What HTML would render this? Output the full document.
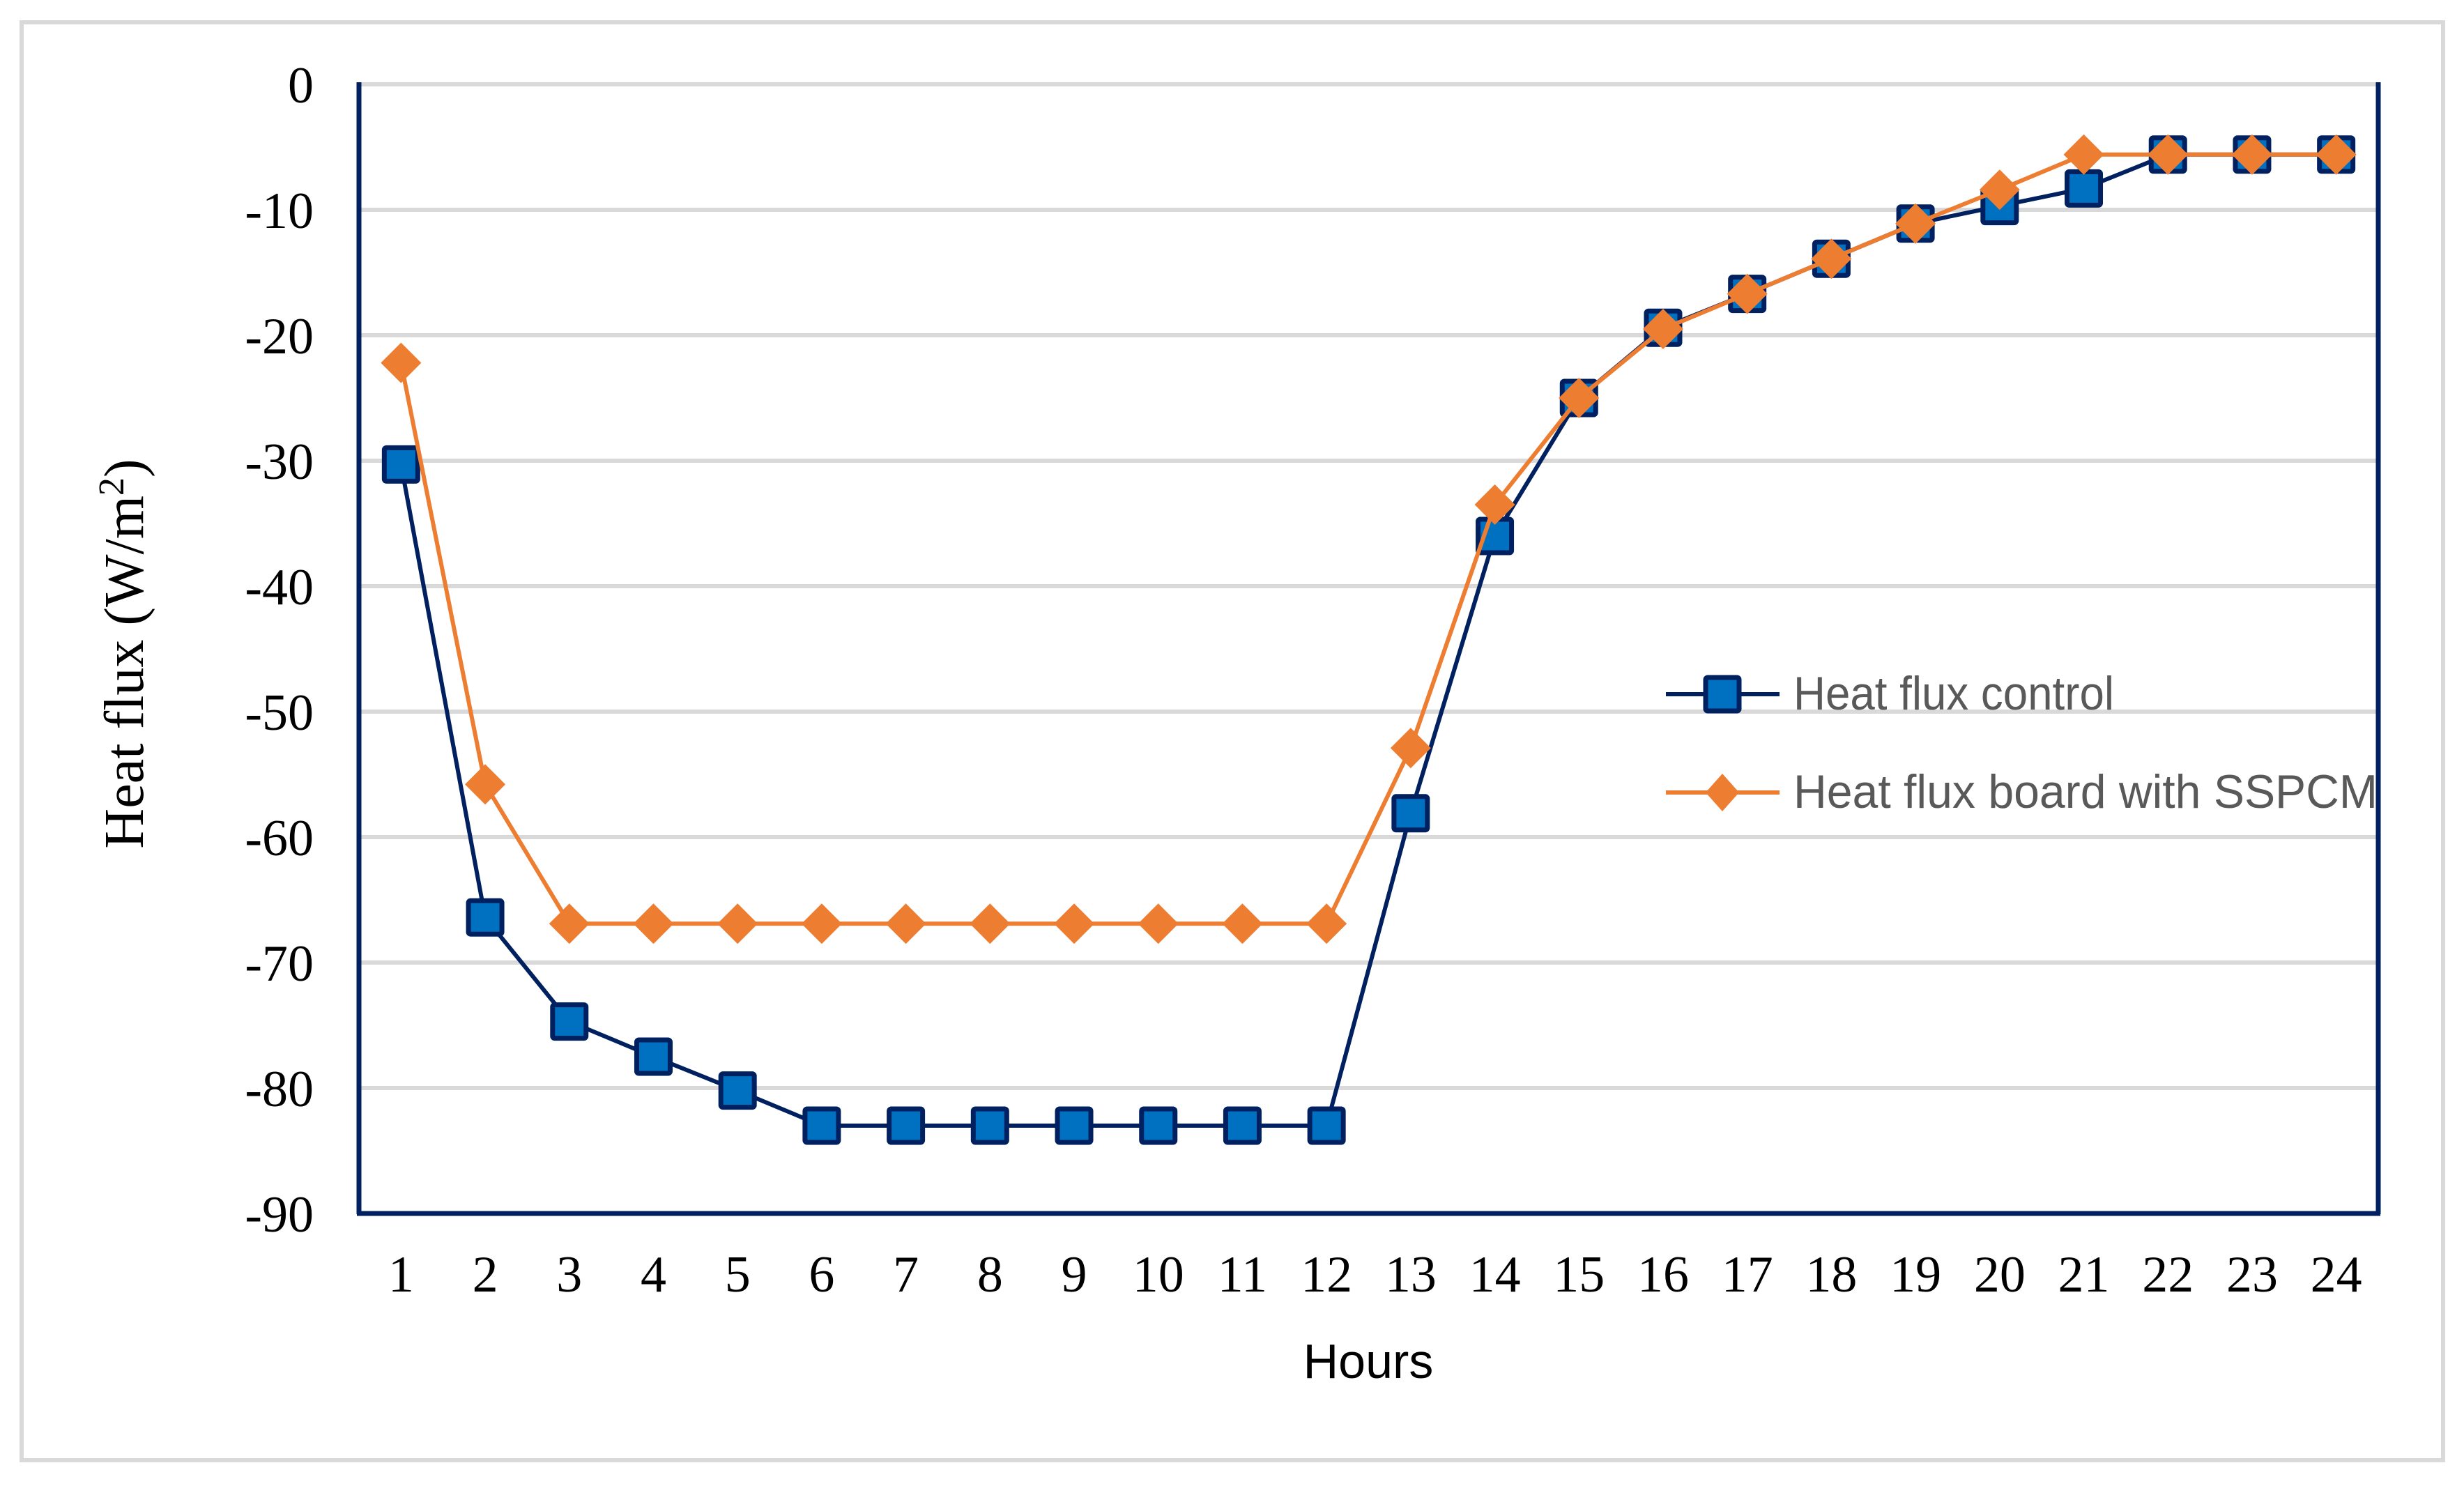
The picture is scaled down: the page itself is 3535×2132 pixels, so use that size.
<!DOCTYPE html>
<html><head><meta charset="utf-8"><style>
html,body{margin:0;padding:0;background:#fff;}
svg{display:block;}
</style></head><body>
<svg id="chart" width="3535" height="2132" viewBox="0 0 3535 2132" xmlns="http://www.w3.org/2000/svg">
<rect x="31" y="32" width="3474" height="2063" fill="#fff" stroke="#d9d9d9" stroke-width="6"/>
<g id="grid"></g>
<g id="yticks"></g>
<g id="xticks"></g>
<line x1="515" y1="118" x2="515" y2="1742" stroke="#002060" stroke-width="7"/>
<line x1="3412" y1="118" x2="3412" y2="1742" stroke="#002060" stroke-width="7"/>
<line x1="512" y1="1741" x2="3415" y2="1741" stroke="#002060" stroke-width="7"/>
<g id="series"></g>
<text x="0" y="0" transform="translate(205,938) rotate(-90)" text-anchor="middle" font-family="Liberation Serif, serif" font-size="80" fill="#000">Heat flux (W/m<tspan baseline-shift="super" font-size="52">2</tspan>)</text>
<text x="1963" y="1977" text-anchor="middle" font-family="Liberation Sans, sans-serif" font-size="70" fill="#000">Hours</text>
<g>
<g>
<line x1="2390" y1="996" x2="2553" y2="996" stroke="#002060" stroke-width="6"/>
<rect x="2447" y="972" width="48" height="48" fill="#0070c0" stroke="#002060" stroke-width="7" rx="3"/>
<text x="2573" y="1018" font-family="Liberation Sans, sans-serif" font-size="68" fill="#595959" textLength="460" lengthAdjust="spacingAndGlyphs">Heat flux control</text>
</g>
<g>
<line x1="2390" y1="1137" x2="2553" y2="1137" stroke="#ED7D31" stroke-width="6"/>
<polygon points="2471,1110 2495,1137 2471,1164 2447,1137" fill="#ED7D31"/>
<text x="2573" y="1159" font-family="Liberation Sans, sans-serif" font-size="68" fill="#595959" textLength="838" lengthAdjust="spacingAndGlyphs">Heat flux board with SSPCM</text>
</g>
</g>
</svg>
<script>
const hours = [1,2,3,4,5,6,7,8,9,10,11,12,13,14,15,16,17,18,19,20,21,22,23,24];
const controlValues = [-30.3,-66.4,-74.7,-77.5,-80.2,-83,-83,-83,-83,-83,-83,-83,-58.1,-36,-25,-19.4,-16.7,-13.9,-11.1,-9.7,-8.3,-5.6,-5.6,-5.6];
const sspcmValues = [-22.2,-55.8,-66.9,-66.9,-66.9,-66.9,-66.9,-66.9,-66.9,-66.9,-66.9,-66.9,-52.9,-33.5,-25,-19.5,-16.7,-13.9,-11.1,-8.4,-5.6,-5.6,-5.6,-5.6];
const yTicks = [0,-10,-20,-30,-40,-50,-60,-70,-80,-90];

const NS = "http://www.w3.org/2000/svg";
const X0 = 515, X1 = 3412, Y0 = 121, Y1 = 1741, YMIN = -90, YMAX = 0;
function xs(i){ return X0 + (i + 0.5) * (X1 - X0) / hours.length; }
function ys(v){ return Y0 + (YMAX - v) / (YMAX - YMIN) * (Y1 - Y0); }
function mk(tag, attrs, parent){ const e = document.createElementNS(NS, tag); for (const k in attrs) e.setAttribute(k, attrs[k]); parent.appendChild(e); return e; }

const grid = document.getElementById('grid');
const yt = document.getElementById('yticks');
yTicks.forEach(v => {
  if (v !== YMIN) {
    const l = mk('line', {x1: X0, x2: X1, y1: ys(v), y2: ys(v), stroke: '#d9d9d9', 'stroke-width': 6}, grid);
    
    
  }
  const t = mk('text', {x: 450, y: ys(v) + 26, 'text-anchor': 'end', 'font-family': 'Liberation Serif, serif', 'font-size': 74, fill: '#000'}, yt);
  t.textContent = String(v);
  
  
});
const xt = document.getElementById('xticks');
hours.forEach((h, i) => {
  const t = mk('text', {x: xs(i), y: 1853, 'text-anchor': 'middle', 'font-family': 'Liberation Serif, serif', 'font-size': 74, fill: '#000'}, xt);
  t.textContent = String(h);
  
  
});

const sg = document.getElementById('series');
const cLine = mk('polyline', {points: controlValues.map((v,i) => xs(i)+','+ys(v)).join(' '), fill: 'none', stroke: '#002060', 'stroke-width': 6, 'stroke-linejoin': 'round'}, sg);


controlValues.forEach((v, i) => {
  const r = mk('rect', {x: xs(i) - 24, y: ys(v) - 24, width: 48, height: 48, rx: 3, fill: '#0070c0', stroke: '#002060', 'stroke-width': 7}, sg);
  
  
});
const sLine = mk('polyline', {points: sspcmValues.map((v,i) => xs(i)+','+ys(v)).join(' '), fill: 'none', stroke: '#ED7D31', 'stroke-width': 6, 'stroke-linejoin': 'round'}, sg);


sspcmValues.forEach((v, i) => {
  const x = xs(i), y = ys(v);
  const p = mk('polygon', {points: `${x},${y-29} ${x+29},${y} ${x},${y+29} ${x-29},${y}`, fill: '#ED7D31'}, sg);
  
  
});
</script>
</body></html>
